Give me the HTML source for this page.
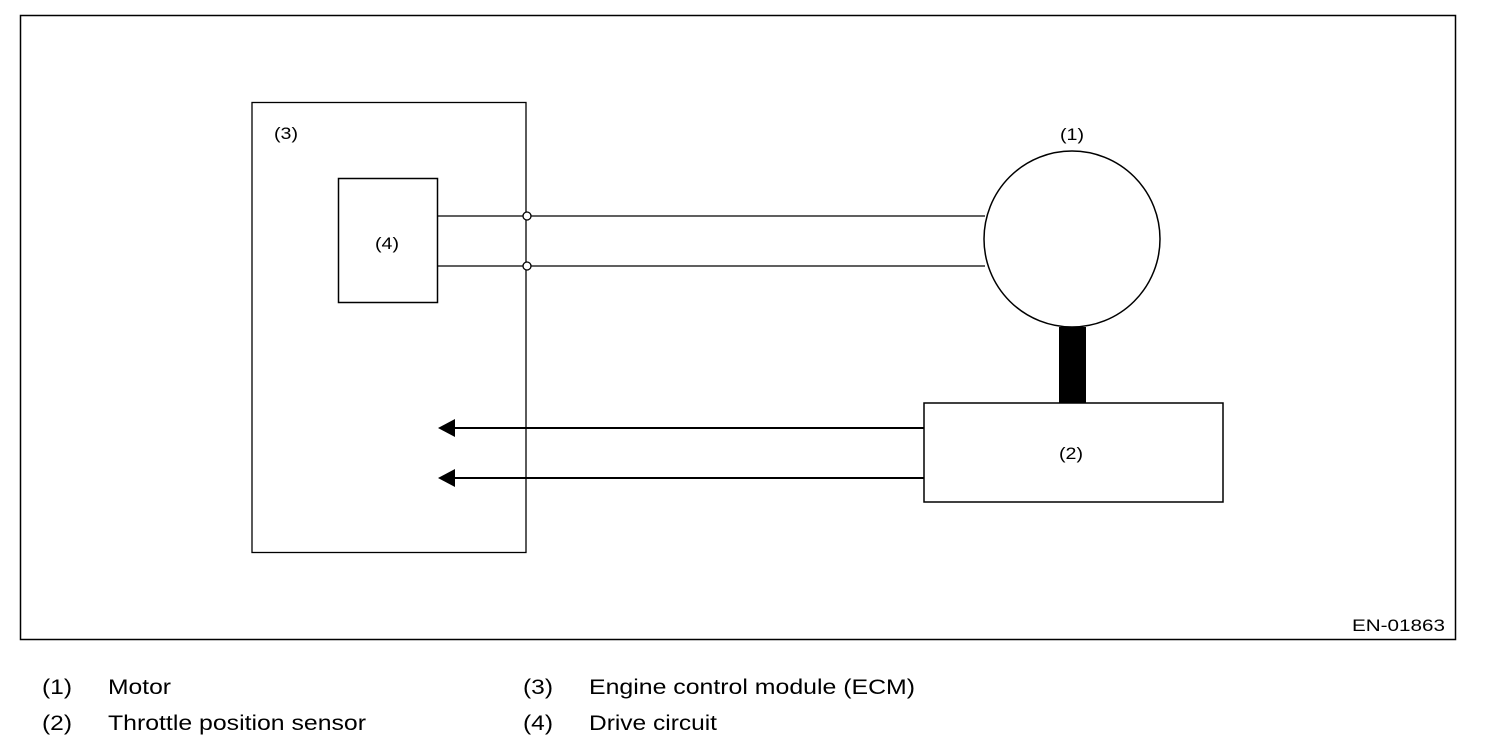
<!DOCTYPE html>
<html><head><style>
body{margin:0;background:#fff;}
svg{display:block;}
text{font-family:"Liberation Sans",Arial,sans-serif;fill:#000;}
</style></head><body>
<svg width="1504" height="752" viewBox="0 0 1504 752" xmlns="http://www.w3.org/2000/svg">
<rect x="20.5" y="15.5" width="1435" height="624" fill="none" stroke="#000" stroke-width="1.5"/>
<rect x="252" y="102.5" width="274" height="450" fill="none" stroke="#000" stroke-width="1.3"/>
<text x="274" y="139" font-size="17" textLength="24" lengthAdjust="spacingAndGlyphs">(3)</text>
<rect x="338.5" y="178.5" width="99" height="124" fill="none" stroke="#000" stroke-width="1.5"/>
<text x="375" y="249" font-size="17" textLength="24" lengthAdjust="spacingAndGlyphs">(4)</text>
<line x1="438" y1="216" x2="985" y2="216" stroke="#000" stroke-width="1.2"/>
<line x1="438" y1="266" x2="985" y2="266" stroke="#000" stroke-width="1.2"/>
<circle cx="527" cy="216" r="4" fill="#fff" stroke="#000" stroke-width="1.3"/>
<circle cx="527" cy="266" r="4" fill="#fff" stroke="#000" stroke-width="1.3"/>
<circle cx="1072" cy="239" r="88" fill="none" stroke="#000" stroke-width="1.5"/>
<text x="1060" y="140" font-size="17" textLength="24" lengthAdjust="spacingAndGlyphs">(1)</text>
<rect x="1059" y="327" width="27" height="76" fill="#000"/>
<rect x="924" y="403" width="299" height="99" fill="none" stroke="#000" stroke-width="1.5"/>
<text x="1059" y="459" font-size="17" textLength="24" lengthAdjust="spacingAndGlyphs">(2)</text>
<line x1="452" y1="428" x2="924" y2="428" stroke="#000" stroke-width="2"/>
<line x1="452" y1="478" x2="924" y2="478" stroke="#000" stroke-width="2"/>
<polygon points="438,428 455,419 455,437" fill="#000"/>
<polygon points="438,478 455,469 455,487" fill="#000"/>
<text x="1352" y="631" font-size="17" textLength="93" lengthAdjust="spacingAndGlyphs">EN-01863</text>
<text x="42" y="694" font-size="21" textLength="30" lengthAdjust="spacingAndGlyphs">(1)</text>
<text x="108" y="694" font-size="21" textLength="63" lengthAdjust="spacingAndGlyphs">Motor</text>
<text x="42" y="730" font-size="21" textLength="30" lengthAdjust="spacingAndGlyphs">(2)</text>
<text x="108" y="730" font-size="21" textLength="258" lengthAdjust="spacingAndGlyphs">Throttle position sensor</text>
<text x="523" y="694" font-size="21" textLength="30" lengthAdjust="spacingAndGlyphs">(3)</text>
<text x="589" y="694" font-size="21" textLength="326" lengthAdjust="spacingAndGlyphs">Engine control module (ECM)</text>
<text x="523" y="730" font-size="21" textLength="30" lengthAdjust="spacingAndGlyphs">(4)</text>
<text x="589" y="730" font-size="21" textLength="128" lengthAdjust="spacingAndGlyphs">Drive circuit</text>
</svg>
</body></html>
